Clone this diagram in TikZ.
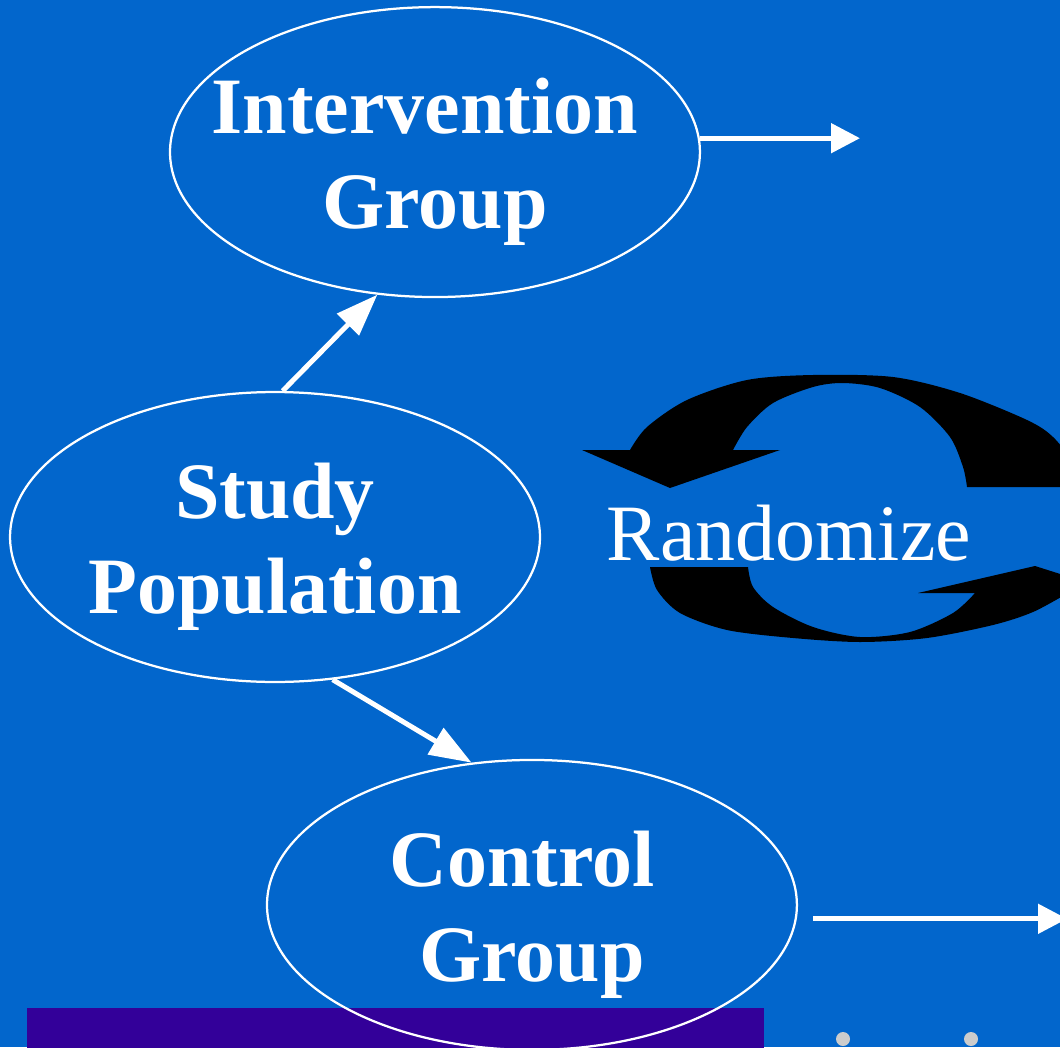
\documentclass[tikz,border=0pt]{standalone}
\usepackage{fontspec}
\setmainfont{Liberation Serif}
\usetikzlibrary{arrows.meta,shapes}
\definecolor{slideblue}{RGB}{2,102,204}
\definecolor{barpurple}{RGB}{51,0,153}
\definecolor{dotgray}{RGB}{204,204,204}
\newcommand{\lift}{\rule{0pt}{1.5cm}}
\newcommand{\trail}{\hspace*{0.25em}}

\begin{document}
\begin{tikzpicture}[x=0.02cm, y=-0.02cm,
  group/.style={ellipse, draw=white, line width=0.045cm, minimum width=10.6cm, minimum height=5.8cm,
                inner xsep=-1cm, inner ysep=0pt, text=white, align=center,
                font=\fontsize{45.5}{54}\selectfont\bfseries},
  flow/.style={draw=white, line width=0.1cm, -{Triangle[length=0.84cm,width=0.6cm]}},
  outflow/.style={draw=white, line width=0.1cm, -{Triangle[length=0.58cm,width=0.58cm]}}]

  \useasboundingbox (0,0) rectangle (1060,1047);
  \clip (0,0) rectangle (1060,1047);
  \fill[slideblue] (0,0) rectangle (1060,1047);
  \fill[barpurple] (27,1008) rectangle (764,1060);

  % the two round arrows behind the word
  \fill[black] (582,450) -- plot[smooth] coordinates {(630,450) (647,427) (687,400) (747,380) (813,375) (893,377) (960,393) (1027,420) (1053,437) (1075,465) (1082,487)}
    -- plot[smooth] coordinates {(967,487) (963,467) (950,437) (920,407) (880,388) (843,383) (813,387) (773,403) (747,427) (733,450)}
    -- (780,450) -- (670,488) -- cycle;
  \fill[black] (650,567) -- plot[smooth] coordinates {(748,567) (753,587) (773,607) (813,627) (860,637) (910,632) (953,613) (975,593)}
    -- (918,593) -- (1035,566) -- (1120,593)
    -- plot[smooth] coordinates {(1068,593) (1033,612) (993,625) (927,638) (860,642) (793,638) (727,630) (680,613) (657,590) (650,567)} -- cycle;

  \node[group] (study) at (275,537) {\lift Study\\Population};
  \node[group, node distance=7.7cm, above of=study, xshift=3.2cm] (inter) {\lift Intervention\trail\\Group};
  \node[group, node distance=7.36cm, below of=study, xshift=5.14cm] (control) {\lift Control\trail\\Group};
  \node[text=white, font=\fontsize{45.5}{54}\selectfont] (rand) at (789,533) {Randomize};

  \draw[flow] (study.87) -- (inter.248);
  \draw[flow] (study.-68) -- (control.113);

  \coordinate (interend) at (860,137);
  \coordinate (controlend) at (1067,920);
  \draw[outflow] (inter.3) -- (inter.3 -| interend);
  \draw[outflow, shorten <=0.32cm] (control.-3) -- (control.-3 -| controlend);

  \fill[dotgray] (843,1039) circle (7);
  \fill[dotgray] (971,1039) circle (7);
\end{tikzpicture}
\end{document}
